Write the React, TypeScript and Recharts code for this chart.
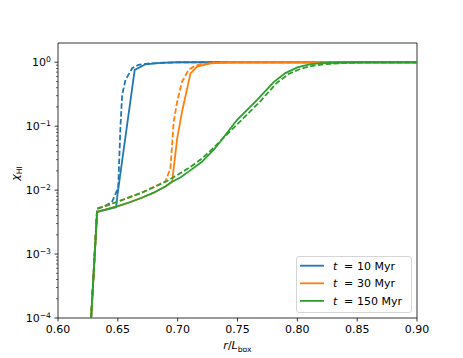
import React from 'react';
import { LineChart, Line, XAxis, YAxis, ReferenceArea, Legend } from 'recharts';

const BLUE = '#1f77b4';
const ORANGE = '#ff7f0e';
const GREEN = '#2ca02c';

// radius in box units, neutral fraction
const t10SolidR = [0.6247, 0.6327, 0.6486, 0.6497, 0.6641, 0.6731, 0.6856, 0.70, 0.9];
const t10SolidChi = [1e-5, 0.00457, 0.0054, 0.0085, 0.76, 0.93, 0.98, 1.0, 1.0];
const t10DashR = [0.6247, 0.6327, 0.6397, 0.6453, 0.6503, 0.6522, 0.6536, 0.6564, 0.662, 0.6672, 0.677, 0.6935, 0.71, 0.9];
const t10DashChi = [1e-5, 0.00513, 0.0057, 0.00664, 0.0109, 0.0986, 0.308, 0.53, 0.805, 0.908, 0.96, 0.99, 1.0, 1.0];

const t30SolidR = [0.6247, 0.6327, 0.6494, 0.66, 0.67, 0.68, 0.69, 0.6954, 0.6967, 0.6996, 0.7037, 0.7107, 0.7163, 0.7274, 0.744, 0.9];
const t30SolidChi = [1e-5, 0.00457, 0.00555, 0.00646, 0.00759, 0.00912, 0.0115, 0.0135, 0.0221, 0.0646, 0.17, 0.67, 0.853, 0.964, 1.0, 1.0];
const t30DashR = [0.6247, 0.6327, 0.65, 0.67, 0.6898, 0.694, 0.6967, 0.6996, 0.7037, 0.7092, 0.7134, 0.719, 0.7315, 0.75, 0.9];
const t30DashChi = [1e-5, 0.00513, 0.0066, 0.00912, 0.0137, 0.0221, 0.118, 0.242, 0.5, 0.76, 0.853, 0.93, 0.98, 1.0, 1.0];

const t150SolidR = [0.6247, 0.6327, 0.6494, 0.66, 0.67, 0.68, 0.69, 0.6954, 0.7023, 0.71, 0.72, 0.73, 0.7357, 0.7497, 0.7664, 0.7802, 0.79, 0.80, 0.81, 0.82, 0.835, 0.85, 0.9];
const t150SolidChi = [1e-5, 0.00457, 0.00555, 0.00646, 0.00759, 0.00912, 0.0115, 0.0135, 0.0158, 0.02, 0.0275, 0.0427, 0.0575, 0.126, 0.257, 0.49, 0.676, 0.832, 0.923, 0.966, 0.991, 1.0, 1.0];
const t150DashR = [0.6247, 0.6327, 0.65, 0.67, 0.69, 0.70, 0.71, 0.72, 0.73, 0.74, 0.7525, 0.7695, 0.783, 0.793, 0.803, 0.813, 0.823, 0.84, 0.86, 0.9];
const t150DashChi = [1e-5, 0.00513, 0.0066, 0.00912, 0.0135, 0.0174, 0.0226, 0.0309, 0.0457, 0.0708, 0.12, 0.251, 0.479, 0.661, 0.794, 0.881, 0.933, 0.977, 1.0, 1.0];

const legendTimes = ['10', '30', '150'];
const legendColors = [BLUE, ORANGE, GREEN];

const xTicks = [0.6, 0.65, 0.7, 0.75, 0.8, 0.85, 0.9];
const yDecades = [1e-4, 1e-3, 1e-2, 1e-1];
const yMinorSubs = [1, 2, 3, 4, 5, 6, 7, 8, 9];
const yTicks = [...yDecades.flatMap((d) => yMinorSubs.map((m) => m * d)), 1];

const zip = (r: number[], chi: number[]) => r.map((v, i) => ({ r: v, chi: chi[i] }));

const series = [
  { key: 't10s', data: zip(t10SolidR, t10SolidChi), color: BLUE, dash: undefined },
  { key: 't10d', data: zip(t10DashR, t10DashChi), color: BLUE, dash: '5.5 2.4' },
  { key: 't30s', data: zip(t30SolidR, t30SolidChi), color: ORANGE, dash: undefined },
  { key: 't30d', data: zip(t30DashR, t30DashChi), color: ORANGE, dash: '5.5 2.4' },
  { key: 't150s', data: zip(t150SolidR, t150SolidChi), color: GREEN, dash: undefined },
  { key: 't150d', data: zip(t150DashR, t150DashChi), color: GREEN, dash: '5.5 2.4' },
];

const FONT = 11;

const LogTick = (props: any) => {
  const { x, y, payload } = props;
  const lg = Math.log10(payload.value);
  const e = Math.round(lg);
  const major = Math.abs(lg - e) < 1e-6;
  return (
    <g>
      <line x1={x} x2={x - (major ? 3.5 : 2)} y1={y} y2={y} stroke="#000" strokeWidth={major ? 0.8 : 0.6} />
      {major && (
        <text x={x - 7} y={y + 4} textAnchor="end" fontSize={FONT} fill="#000">
          10
          <tspan dy={-4.5} fontSize={7.7}>{e === 0 ? '0' : '\u2212' + Math.abs(e)}</tspan>
        </text>
      )}
    </g>
  );
};

const XLabel = (props: any) => {
  const { viewBox } = props;
  const cx = viewBox.x + viewBox.width / 2;
  return (
    <text x={cx} y={349} textAnchor="middle" fontSize={FONT} fill="#000">
      <tspan fontStyle="italic">r</tspan>/<tspan fontStyle="italic">L</tspan>
      <tspan dy={2.5} fontSize={7.7}>box</tspan>
    </text>
  );
};

const YLabel = (props: any) => {
  const { viewBox } = props;
  const cy = viewBox.y + viewBox.height / 2 - 7;
  const cx = 19;
  return (
    <text x={cx} y={cy} transform={`rotate(-90, ${cx}, ${cy})`} textAnchor="middle" fontSize={FONT} fill="#000">
      <tspan fontStyle="italic">χ</tspan>
      <tspan dy={2.5} fontSize={7.7}>HI</tspan>
    </text>
  );
};

const LegendBox = () => (
  <svg width={118} height={58} style={{ display: 'block', fontFamily: 'DejaVu Sans' }}>
    <rect x={0.5} y={0.5} width={115} height={56} rx={2.5} fill="rgba(255,255,255,0.8)" stroke="#cccccc" strokeWidth={0.8} />
    {legendTimes.map((t, i) => {
      const cy = 9.7 + i * 17.6;
      return (
        <g key={t}>
          <line x1={4} x2={28} y1={cy} y2={cy} stroke={legendColors[i]} strokeWidth={1.8} />
          <text y={cy + 4} fontSize={FONT} fill="#000">
            <tspan x={37} fontStyle="italic">t</tspan>
            <tspan x={48}>=</tspan>
            <tspan x={61}>{t} Myr</tspan>
          </text>
        </g>
      );
    })}
  </svg>
);

export default function App() {
  return (
    <div style={{ position: 'absolute', left: 0, top: 0, width: 463, height: 358, background: '#fff' }}>
      <LineChart
        width={463}
        height={358}
        margin={{ top: 43, right: 46, bottom: 10, left: 8 }}
        style={{ fontFamily: 'DejaVu Sans' }}
      >
        <XAxis
          type="number"
          dataKey="r"
          domain={[0.6, 0.9]}
          ticks={xTicks}
          interval={0}
          allowDataOverflow
          axisLine={false}
          height={30}
          tickSize={3.5}
          tickMargin={3.5}
          tickLine={{ stroke: '#000', strokeWidth: 0.8 }}
          tick={{ fontSize: FONT, fill: '#000' }}
          tickFormatter={(v: number) => v.toFixed(2)}
          label={<XLabel />}
        />
        <YAxis
          type="number"
          dataKey="chi"
          scale="log"
          domain={[1e-4, 2]}
          ticks={yTicks}
          interval={0}
          allowDataOverflow
          axisLine={false}
          width={50}
          tickSize={0}
          tickMargin={0}
          tickLine={false}
          tick={<LogTick />}
          label={<YLabel />}
        />
        {series.map((s) => (
          <Line
            key={s.key}
            data={s.data}
            dataKey="chi"
            type="linear"
            stroke={s.color}
            strokeWidth={1.8}
            strokeDasharray={s.dash}
            dot={false}
            activeDot={false}
            isAnimationActive={false}
          />
        ))}
        <ReferenceArea x1={0.6} x2={0.9} y1={1e-4} y2={2} fill="none" stroke="#000" strokeWidth={0.8} />
        <Legend
          layout="horizontal"
          verticalAlign="middle"
          align="center"
          wrapperStyle={{ position: 'absolute', left: 296, top: 256, width: 118, height: 58 }}
          content={() => <LegendBox />}
        />
      </LineChart>
    </div>
  );
}
